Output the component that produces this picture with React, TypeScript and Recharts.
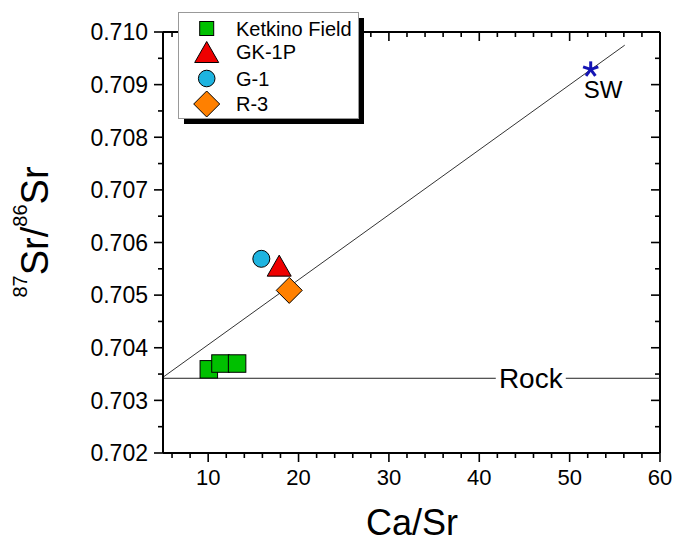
import React from "react";
import {
  ScatterChart,
  Scatter,
  XAxis,
  YAxis,
  ReferenceLine,
  ReferenceDot,
  Legend,
  LabelList,
} from "recharts";

const FONT = "Arial, 'Liberation Sans', sans-serif";

// values
const ketkinoField = [
  { x: 10.07, y: 0.70359 },
  { x: 11.36, y: 0.7037 },
  { x: 13.2, y: 0.7037 },
];
const gk1p = [{ x: 17.86, y: 0.70556 }];
const g1 = [{ x: 15.88, y: 0.70569 }];
const r3 = [{ x: 18.97, y: 0.70509 }];
const seawater = [{ x: 52.33, y: 0.70929, label: "SW" }];

const mixingLine = [
  { x: 5, y: 0.70344 },
  { x: 56.1, y: 0.70975 },
];
const rockLevel = 0.70342;
const rockLabelX = 45.7;

const xDomain = [5, 60];
const yDomain = [0.702, 0.71];
const xTicks = [6, 8, 10, 12, 14, 16, 18, 20, 22, 24, 26, 28, 30, 32, 34, 36, 38, 40, 42, 44, 46, 48, 50, 52, 54, 56, 58, 60];
const yTicks = [0.702, 0.7025, 0.703, 0.7035, 0.704, 0.7045, 0.705, 0.7055, 0.706, 0.7065, 0.707, 0.7075, 0.708, 0.7085, 0.709, 0.7095, 0.71];

const legendItems = ["Ketkino Field", "GK-1P", "G-1", "R-3"];

const isMajorX = (v: number) => v % 10 === 0;
const isMajorY = (v: number) => Math.abs(v * 1000 - Math.round(v * 1000)) < 1e-6;

const MAJOR = 9;
const MINOR = 5;
// frame edges (chart margins below)
const PLOT_TOP = 32;
const PLOT_RIGHT = 660;

const SquareMark = ({ cx, cy, size = 17.5 }: any) => (
  <rect x={cx - size / 2} y={cy - size / 2} width={size} height={size} fill="#00c000" stroke="#000" strokeWidth={1} />
);
const TriangleMark = ({ cx, cy, w = 24, h = 21 }: any) => (
  <polygon
    points={`${cx},${cy - h / 2} ${cx + w / 2},${cy + h / 2} ${cx - w / 2},${cy + h / 2}`}
    fill="#ee0000"
    stroke="#000"
    strokeWidth={1}
  />
);
const CircleMark = ({ cx, cy, r = 8.5 }: any) => (
  <circle cx={cx} cy={cy} r={r} fill="#1eb4e0" stroke="#000" strokeWidth={1} />
);
const DiamondMark = ({ cx, cy, d = 13 }: any) => (
  <polygon
    points={`${cx},${cy - d} ${cx + d},${cy} ${cx},${cy + d} ${cx - d},${cy}`}
    fill="#ff8000"
    stroke="#000"
    strokeWidth={1}
  />
);
const StarMark = ({ cx, cy }: any) => {
  const arms = [0, 72, 144, 216, 288].map((a) => {
    const r = (a * Math.PI) / 180;
    return { x: cx + 8 * Math.sin(r), y: cy - 8 * Math.cos(r) };
  });
  return (
    <g>
      {arms.map((p, i) => (
        <line key={i} x1={cx} y1={cy} x2={p.x} y2={p.y} stroke="#1414b4" strokeWidth={3} />
      ))}
    </g>
  );
};

// bottom ticks point out, top ticks point in
const BottomTick = ({ x, y, payload }: any) => {
  const major = isMajorX(payload.value);
  const len = major ? MAJOR : MINOR;
  return (
    <g>
      <line x1={x} x2={x} y1={y} y2={y + len} stroke="#000" strokeWidth={1.6} />
      <line x1={x} x2={x} y1={PLOT_TOP} y2={PLOT_TOP + len} stroke="#000" strokeWidth={1.6} />
      {major && (
        <text x={x} y={y + 32} textAnchor="middle" fontSize={22} fontFamily={FONT} fill="#000">
          {payload.value}
        </text>
      )}
    </g>
  );
};
const LeftTick = ({ x, y, payload }: any) => {
  const major = isMajorY(payload.value);
  const len = major ? MAJOR : MINOR;
  return (
    <g>
      <line x1={x} x2={x - len} y1={y} y2={y} stroke="#000" strokeWidth={1.6} />
      <line x1={PLOT_RIGHT} x2={PLOT_RIGHT - len} y1={y} y2={y} stroke="#000" strokeWidth={1.6} />
      {major && (
        <text x={x - 15} y={y} dy="0.36em" textAnchor="end" fontSize={23} fontFamily={FONT} fill="#000">
          {payload.value.toFixed(3)}
        </text>
      )}
    </g>
  );
};

const LegendBox = () => {
  const rows = [23.5, 47, 73.5, 99];
  const mx = 36.7;
  return (
    <svg width={200} height={125} style={{ display: "block" }}>
      <rect x={14} y={13} width={180} height={106} fill="#000" />
      <rect x={8.5} y={7.5} width={180} height={106} fill="#fff" stroke="#999" strokeWidth={1} />
      <SquareMark cx={mx} cy={rows[0]} size={14} />
      <TriangleMark cx={mx} cy={rows[1]} w={24} h={21} />
      <CircleMark cx={mx} cy={rows[2]} r={8.3} />
      <DiamondMark cx={mx} cy={rows[3]} d={13} />
      {legendItems.map((name, i) => (
        <text key={name} x={66} y={rows[i] + 7} fontSize={20} fontFamily={FONT} fill="#000">
          {name}
        </text>
      ))}
    </svg>
  );
};

const YTitle = () => (
  <text transform="translate(48,232) rotate(-90)" textAnchor="middle" fontFamily={FONT} fill="#000">
    <tspan fontSize={20} dy={-21}>87</tspan>
    <tspan fontSize={38} dy={21}>Sr/</tspan>
    <tspan fontSize={20} dy={-21}>86</tspan>
    <tspan fontSize={38} dy={21}>Sr</tspan>
  </text>
);

const XTitle = () => (
  <text x={412} y={535} textAnchor="middle" fontSize={36} fontFamily={FONT} fill="#000">
    Ca/Sr
  </text>
);

export default function App() {
  return (
    <div style={{ position: "absolute", left: 0, top: 0, background: "#fff" }}>
      <ScatterChart width={686} height={545} margin={{ top: PLOT_TOP, right: 686 - PLOT_RIGHT, bottom: 0, left: 0 }}>
        <XAxis
          type="number"
          dataKey="x"
          domain={xDomain}
          ticks={xTicks}
          interval={0}
          allowDataOverflow
          height={92}
          tickLine={false}
          tickSize={0}
          tickMargin={0}
          axisLine={{ stroke: "#000", strokeWidth: 2 }}
          tick={<BottomTick />}
          label={{ content: () => <XTitle /> }}
        />
        <YAxis
          type="number"
          dataKey="y"
          domain={yDomain}
          ticks={yTicks}
          interval={0}
          allowDataOverflow
          width={163}
          tickLine={false}
          tickSize={0}
          tickMargin={0}
          axisLine={{ stroke: "#000", strokeWidth: 2 }}
          tick={<LeftTick />}
          label={{ content: () => <YTitle /> }}
        />
        {/* top and right frame */}
        <ReferenceLine y={yDomain[1]} stroke="#000" strokeWidth={2} />
        <ReferenceLine x={xDomain[1]} stroke="#000" strokeWidth={2} />
        <ReferenceLine y={rockLevel} stroke="#222" strokeWidth={1} />
        <ReferenceDot
          x={rockLabelX}
          y={rockLevel}
          r={0}
          shape={(p: any) => (
            <g>
              <rect x={p.cx - 35} y={p.cy - 15} width={70} height={30} fill="#fff" />
              <text x={p.cx} y={p.cy} dy="0.36em" textAnchor="middle" fontSize={28} fontFamily={FONT} fill="#000">
                Rock
              </text>
            </g>
          )}
        />
        <Scatter name="Ketkino Field" data={ketkinoField} shape={(p: any) => <SquareMark cx={p.cx} cy={p.cy} />} isAnimationActive={false} />
        <Scatter name="G-1" data={g1} shape={(p: any) => <CircleMark cx={p.cx} cy={p.cy} />} isAnimationActive={false} />
        <Scatter name="GK-1P" data={gk1p} shape={(p: any) => <TriangleMark cx={p.cx} cy={p.cy} />} isAnimationActive={false} />
        <Scatter name="R-3" data={r3} shape={(p: any) => <DiamondMark cx={p.cx} cy={p.cy} />} isAnimationActive={false} />
        <Scatter name="SW" data={seawater} shape={(p: any) => <StarMark cx={p.cx} cy={p.cy} />} isAnimationActive={false}>
          <LabelList
            dataKey="label"
            content={(p: any) => (
              <text x={p.x + 17} y={p.y + 33} textAnchor="middle" fontSize={24} fontFamily={FONT} fill="#000">
                {p.value}
              </text>
            )}
          />
        </Scatter>
        <ReferenceLine segment={mixingLine} stroke="#333" strokeWidth={1} />
        <Legend
          layout="vertical"
          align="center"
          verticalAlign="middle"
          wrapperStyle={{ position: "absolute", left: 170, top: 5, width: 200, height: 125 }}
          content={() => <LegendBox />}
        />
      </ScatterChart>
    </div>
  );
}
